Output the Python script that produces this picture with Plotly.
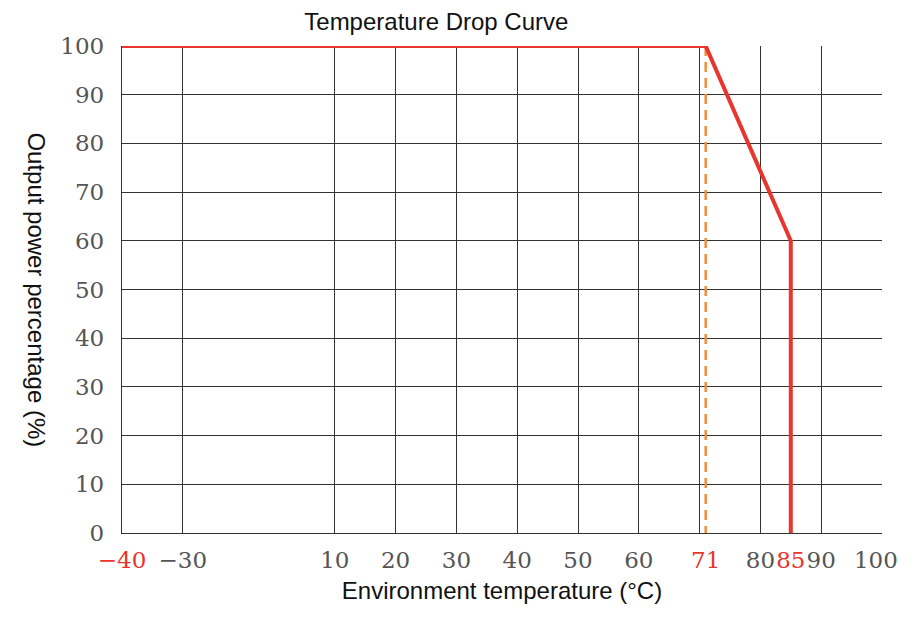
import plotly.graph_objects as go

# derating curve, temperature in degC vs output power in %
curve_temp = [-40, 71, 85, 85]
curve_power = [100, 100, 60, 0]

# dashed marker where derating starts
derate_temp = [71, 71]
derate_power = [100, 0]

grid_temps = [-30, 10, 20, 30, 40, 50, 60, 70, 80, 90, 100]
label_temps = [-40, -30, 10, 20, 30, 40, 50, 60, 71, 80, 85, 90, 100]
red_labels = [-40, 71, 85]
power_ticks = [0, 10, 20, 30, 40, 50, 60, 70, 80, 90, 100]

RED = "#e8352d"
ORANGE = "#ef8f3c"
GRID = "#333333"
TICK_FONT = dict(family="DejaVu Serif", size=23, color="#555555")
SANS = "Liberation Sans"


def to_axis(t):
    # the original chart squeezes the -30..10 span (broken axis)
    if t <= -30:
        return t + 15
    if t < 10:
        return -15 + (t + 30) * 25 / 40
    return t


def label_pos(t):
    # last label would run off the right edge of the page, pull it in a bit
    return to_axis(t) - 1 if t == label_temps[-1] else to_axis(t)


def tick_label(t):
    s = str(t).replace("-", "\u2212")
    if t in red_labels:
        return f"<span style='color:{RED}'>{s}</span>"
    return s


fig = go.Figure()

fig.add_trace(go.Scatter(
    x=[to_axis(t) for t in derate_temp], y=derate_power,
    mode="lines", line=dict(color=ORANGE, width=2.5, dash="10px,6px"),
    hoverinfo="skip", showlegend=False,
))
fig.add_trace(go.Scatter(
    x=[to_axis(t) for t in curve_temp], y=curve_power,
    mode="lines", line=dict(color=RED, width=4),
    showlegend=False, cliponaxis=False,
))

fig.update_xaxes(
    range=[to_axis(-40), to_axis(100)], automargin=False,
    tickmode="array",
    tickvals=[label_pos(t) for t in label_temps],
    ticktext=[tick_label(t) for t in label_temps],
    tickangle=0,
    ticks="", showgrid=False, zeroline=False,
    showline=True, linecolor=GRID, linewidth=1.4,
    tickfont=TICK_FONT, ticklabelstandoff=6,
    minor=dict(tickmode="array", tickvals=[to_axis(t) for t in grid_temps],
               showgrid=True, gridcolor=GRID, gridwidth=1.4, ticks=""),
    title=dict(text="Environment temperature (°C)",
               font=dict(family=SANS, size=24, color="#111"), standoff=10),
)
fig.update_yaxes(
    range=[0, 100], automargin=False,
    tickmode="array", tickvals=power_ticks,
    ticks="", showgrid=True, gridcolor=GRID, gridwidth=1.4, zeroline=False,
    showline=True, linecolor=GRID, linewidth=1.4,
    tickfont=TICK_FONT, ticklabelstandoff=12,
)

fig.add_annotation(
    text="Output power percentage (%)", textangle=90,
    xref="paper", yref="paper", x=-0.113, y=0.5, xanchor="center", yanchor="middle",
    showarrow=False, font=dict(family=SANS, size=24, color="#111"),
)

# page body adds an 8px margin, so the figure is offset by 8px in the window
fig.update_layout(
    width=898, height=605,
    margin=dict(l=114, r=24, t=38, b=80),
    paper_bgcolor="white", plot_bgcolor="white",
    title=dict(text="Temperature Drop Curve", x=0.477, xanchor="center",
               y=0.977, yanchor="middle",
               font=dict(family=SANS, size=24, color="#111")),
)

fig.write_html("out.html")
